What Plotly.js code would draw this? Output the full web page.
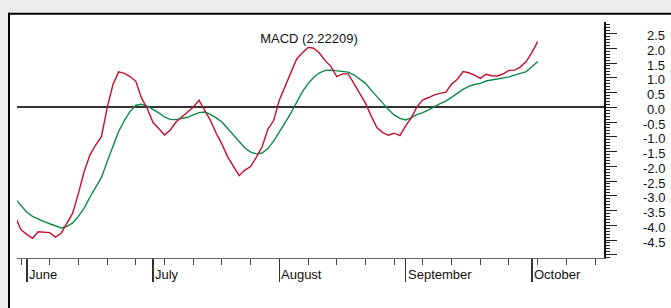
<!DOCTYPE html>
<html><head><meta charset="utf-8">
<script src="https://cdn.plot.ly/plotly-3.0.1.min.js"></script>
<style>html,body{margin:0;padding:0;background:#ececec;} #chart{width:671px;height:308px;}</style>
</head><body><div id="chart"></div>
<script>
// MACD line, one value per trading day, starting one day before the first weekly tick
const macd = [
  -3.72, -4.15, -4.31, -4.44, -4.22, -4.24, -4.25, -4.40, -4.27, -3.93,
  -3.59, -2.92, -2.18, -1.62, -1.28, -1.00, -0.03, 0.76, 1.20, 1.15,
  1.04, 0.88, 0.31, -0.05, -0.52, -0.72, -0.94, -0.77, -0.50, -0.33,
  -0.15, 0.00, 0.24, -0.09, -0.45, -0.88, -1.25, -1.68, -1.99, -2.32,
  -2.13, -2.01, -1.69, -1.34, -0.75, -0.45, 0.25, 0.70, 1.15, 1.63,
  1.85, 2.03, 2.00, 1.83, 1.58, 1.38, 1.04, 1.13, 1.13, 0.81,
  0.47, 0.14, -0.30, -0.69, -0.86, -0.95, -0.88, -0.96, -0.63, -0.35,
  0.02, 0.25, 0.33, 0.42, 0.47, 0.51, 0.78, 0.95, 1.21, 1.17,
  1.09, 0.98, 1.12, 1.07, 1.06, 1.13, 1.25, 1.26, 1.37, 1.55,
  1.86, 2.22209
];
// Signal line
const signal = [
  -3.10, -3.33, -3.56, -3.70, -3.80, -3.88, -3.95, -4.01, -4.09, -4.04,
  -3.92, -3.70, -3.42, -3.05, -2.70, -2.38, -1.85, -1.30, -0.82, -0.45,
  -0.14, 0.07, 0.10, 0.04, -0.07, -0.19, -0.33, -0.41, -0.42, -0.39,
  -0.34, -0.26, -0.18, -0.16, -0.24, -0.36, -0.50, -0.72, -0.95, -1.18,
  -1.38, -1.52, -1.58, -1.55, -1.40, -1.15, -0.85, -0.52, -0.20, 0.18,
  0.52, 0.80, 1.02, 1.17, 1.25, 1.26, 1.24, 1.23, 1.19, 1.10,
  0.96, 0.81, 0.58, 0.36, 0.12, -0.08, -0.26, -0.38, -0.43, -0.35,
  -0.24, -0.18, -0.09, 0.02, 0.12, 0.21, 0.33, 0.47, 0.61, 0.71,
  0.77, 0.81, 0.89, 0.92, 0.95, 0.98, 1.03, 1.09, 1.15, 1.21,
  1.37, 1.55
];
const firstDay = -1;
const monthNames = ['June', 'July', 'August', 'September', 'October'];
const monthStart = [1, 23, 45, 67, 89];
const weekStart = [0, 5, 10, 15, 20, 25, 30, 35, 40, 45, 50, 55, 60, 65, 70, 75, 80, 85, 90, 95, 100];
const yTickVals = [2.5, 2.0, 1.5, 1.0, 0.5, 0.0, -0.5, -1.0, -1.5, -2.0, -2.5, -3.0, -3.5, -4.0, -4.5];
const yTickText = ['2.5', '2.0', '1.5', '1.0', '0.5', '0.0', '-0.5', '-1.0', '-1.5', '-2.0', '-2.5', '-3.0', '-3.5', '-4.0', '-4.5'];
const titleText = 'MACD (2.22209)';

const days = macd.map((_, i) => firstDay + i);

const W = 671, H = 308, M = {l: 17, r: 67, t: 22, b: 50};
const pw = W - M.l - M.r, ph = H - M.t - M.b;
const px = x => (x - M.l) / pw;
const py = y => (H - M.b - y) / ph;
const FONT = 'Liberation Sans, Arial, Helvetica, sans-serif';

const traces = [
  {x: days, y: signal, type: 'scatter', mode: 'lines', line: {color: '#0b8a47', width: 1.4}, hoverinfo: 'skip'},
  {x: days, y: macd, type: 'scatter', mode: 'lines', line: {color: '#c20f2b', width: 1.4}, hoverinfo: 'skip'}
];

const annotations = [];
monthNames.forEach((m, i) => annotations.push({
  x: monthStart[i], xref: 'x', y: py(274), yref: 'paper', text: m, showarrow: false,
  xanchor: 'left', yanchor: 'middle', xshift: 0, font: {family: FONT, size: 13, color: '#111'}
}));
yTickVals.forEach((v, i) => annotations.push({
  x: 1, xref: 'paper', y: v, yref: 'y', text: yTickText[i], showarrow: false,
  xanchor: 'right', yanchor: 'middle', xshift: 63, yshift: -2, font: {family: FONT, size: 13, color: '#111'}
}));

const shapes = [
  {type: 'rect', xref: 'paper', yref: 'paper', x0: px(9), x1: px(680), y0: py(320), y1: py(13.7), fillcolor: '#ffffff', line: {width: 0}, layer: 'below'},
  {type: 'line', xref: 'paper', yref: 'paper', x0: px(9), x1: px(9), y0: py(12.7), y1: py(320), line: {color: '#000', width: 2}, layer: 'below'},
  {type: 'line', xref: 'paper', yref: 'paper', x0: px(8), x1: px(680), y0: py(13.7), y1: py(13.7), line: {color: '#000', width: 2}, layer: 'below'}
];

const layout = {
  width: W, height: H, margin: M,
  paper_bgcolor: '#ececec', plot_bgcolor: 'rgba(0,0,0,0)',
  showlegend: false,
  font: {family: FONT, size: 13, color: '#111'},
  title: {text: titleText, x: 309 / W, xref: 'container', xanchor: 'center', y: 1 - 38 / H, yref: 'container', yanchor: 'middle',
          font: {family: FONT, size: 13, color: '#111'}},
  xaxis: {
    range: [-0.70, 101.55], showgrid: false, zeroline: false,
    showline: true, linecolor: '#666', linewidth: 1,
    tickmode: 'array', tickvals: monthStart, showticklabels: false,
    ticks: 'outside', ticklen: 23, tickwidth: 1.5, tickcolor: '#333',
    minor: {tickmode: 'array', tickvals: weekStart, ticks: 'outside', ticklen: 6, tickwidth: 1, tickcolor: '#444', showgrid: false}
  },
  yaxis: {
    side: 'right', range: [-5.11, 2.89], showgrid: false,
    zeroline: true, zerolinecolor: '#333', zerolinewidth: 2,
    showline: true, linecolor: '#111', linewidth: 1.5,
    tickmode: 'linear', tick0: 0, dtick: 0.5, showticklabels: false,
    ticks: 'outside', ticklen: 11, tickwidth: 1, tickcolor: '#222',
    minor: {tickmode: 'linear', tick0: 0, dtick: 0.1, ticks: 'outside', ticklen: 4, tickwidth: 1, tickcolor: '#222', showgrid: false}
  },
  annotations: annotations,
  shapes: shapes
};

Plotly.newPlot('chart', traces, layout, {staticPlot: true, displayModeBar: false});
</script>
</body></html>
